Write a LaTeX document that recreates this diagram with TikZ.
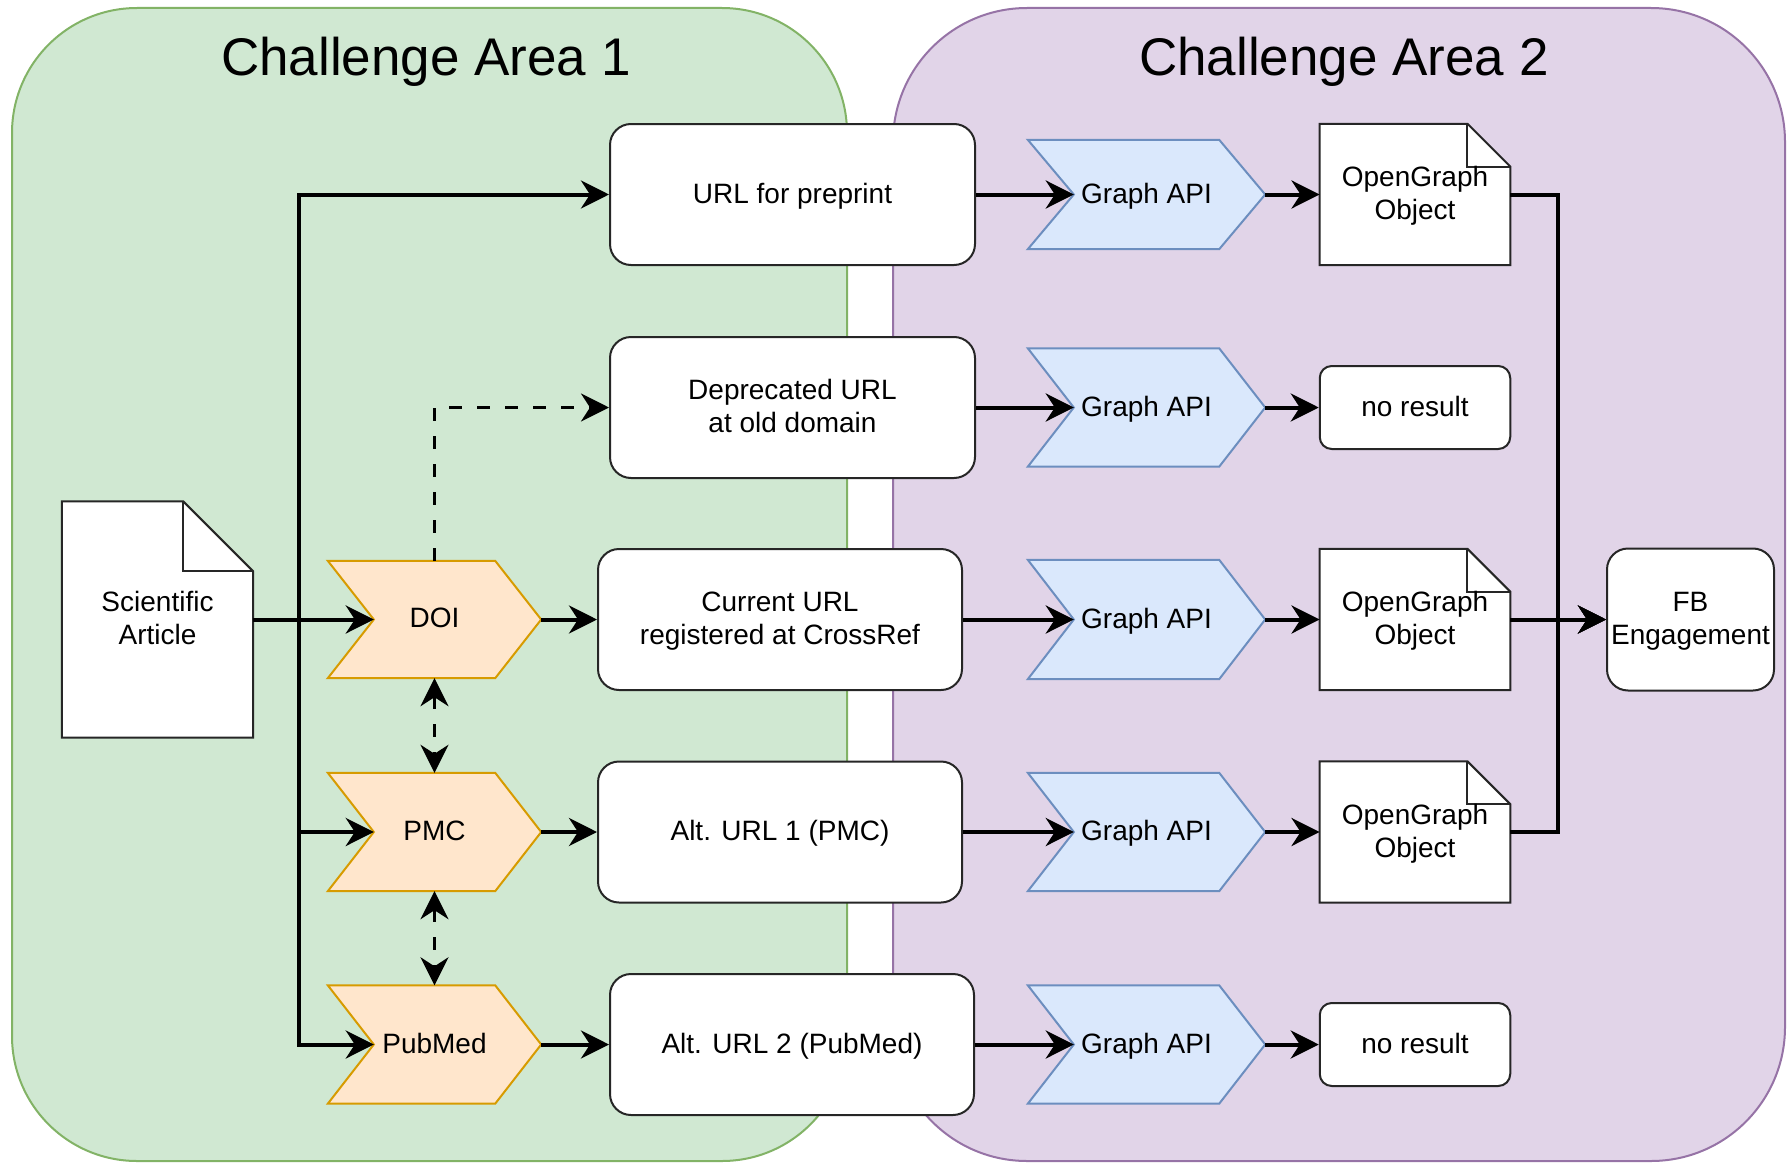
\documentclass[tikz,border=0pt]{standalone}
\usepackage{fontspec}
\setmainfont{Liberation Sans}
\usetikzlibrary{arrows.meta}
\pgfdeclarelayer{back}
\pgfdeclarelayer{mid}
\pgfsetlayers{back,mid,main}
\definecolor{gfill}{HTML}{D0E8D2}
\definecolor{gline}{HTML}{82B366}
\definecolor{pfill}{HTML}{E1D4E8}
\definecolor{pline}{HTML}{9673A6}
\definecolor{ofill}{HTML}{FFE6CC}
\definecolor{oline}{HTML}{D79B00}
\definecolor{bfill}{HTML}{DAE8FC}
\definecolor{bline}{HTML}{6C8EBF}
\newcommand{\fs}{\fontsize{28}{33}\selectfont}
\newcommand{\chevpath}[3]{%
  \path[#3] (#1.north west) -- ([xshift=-#2pt]#1.north east) -- (#1.east) -- ([xshift=-#2pt]#1.south east) -- (#1.south west) -- ([xshift=#2pt]#1.west) -- cycle;}
\newcommand{\docpath}[2]{%
  \path[docline] (#1.north west) -- ([xshift=-#2pt]#1.north east) -- ([yshift=-#2pt]#1.north east) -- (#1.south east) -- (#1.south west) -- cycle;
  \path[docline, fill=none] ([xshift=-#2pt]#1.north east) -- ([xshift=-#2pt,yshift=-#2pt]#1.north east) -- ([yshift=-#2pt]#1.north east);}
\begin{document}
\begin{tikzpicture}[x=1pt,y=-1pt,
  titletext/.style={font=\fontsize{53}{60}\selectfont, inner sep=0, anchor=base},
  box/.style={draw=black!85, line width=2pt, fill=white, rounded corners=21pt, minimum width=365pt, minimum height=141pt, inner sep=0, align=center, font=\fs, text depth=3pt},
  res/.style={box, rounded corners=12pt, minimum width=190.5pt, minimum height=83pt},
  doc/.style={draw=none, inner sep=0, align=center, font=\fs, minimum width=190.5pt, minimum height=141pt, text depth=3pt},
  chev/.style={draw=none, inner sep=0, align=center, font=\fs, minimum width=213pt, minimum height=118pt, text depth=3pt},
  bchev/.style={chev, minimum width=237pt},
  docline/.style={fill=white, draw=black!85, line width=2pt},
  ochev/.style={fill=ofill, draw=oline, line width=2pt},
  bchevs/.style={fill=bfill, draw=bline, line width=2pt},
  tip/.style={Stealth[length=28pt,width=28pt,inset=9pt]},
  arr/.style={line width=4pt, -{Stealth[length=28pt,width=28pt,inset=9pt]}},
  darr/.style={arr, line width=3.5pt, dash pattern=on 13pt off 15pt},
  ddarr/.style={darr, {Stealth[length=28pt,width=28pt,inset=9pt]}-{Stealth[length=28pt,width=28pt,inset=9pt]}}
]
\useasboundingbox (0,0) rectangle (1789,1164);
\begin{pgfonlayer}{back}
  \draw[fill=gfill, draw=gline, line width=2pt, rounded corners=125pt] (12,8) rectangle (847,1161);
  \draw[fill=pfill, draw=pline, line width=2pt, rounded corners=134pt] (893,8) rectangle (1785,1161);
\end{pgfonlayer}
\node[titletext] (t1) at (426,75) {Challenge Area 1};
\node[titletext] (t2) at (1344,75) {Challenge Area 2};

% left column
\node[doc, minimum width=191pt, minimum height=236pt] (art) at (157.5,619.5) {Scientific\\Article};
\node[chev, minimum height=117pt] (doi) at (434.5,619.5) {DOI};
\node[chev] (pmc) at (434.5,832) {PMC};
\node[chev] (pubmed) at (434.5,1044.5) {PubMed};

% URL boxes
\node[box] (url) at (792.5,194.5) {URL for preprint};
\node[box] (dep) at (792.5,407.5) {Deprecated URL\\at old domain};
\node[box, minimum width=364pt] (cur) at (780,619.5) {Current URL\\registered at CrossRef};
\node[box, minimum width=364pt] (alt1) at (780,832) {Alt. URL 1 (PMC)};
\node[box, minimum width=364pt] (alt2) at (792,1044.5) {Alt. URL 2 (PubMed)};

% Graph API
\node[bchev, minimum height=109pt] (g1) at (1146.5,194.5) {Graph API};
\node[bchev] (g2) at (1146.5,407.5) {Graph API};
\node[bchev, minimum height=119pt] (g3) at (1146.5,619.5) {Graph API};
\node[bchev] (g4) at (1146.5,832) {Graph API};
\node[bchev] (g5) at (1146.5,1044.5) {Graph API};

% results
\node[doc] (og1) at (1415,194.5) {OpenGraph\\Object};
\node[res] (nr2) at (1415,407.5) {no result};
\node[doc] (og3) at (1415,619.5) {OpenGraph\\Object};
\node[doc] (og4) at (1415,832) {OpenGraph\\Object};
\node[res] (nr5) at (1415,1044.5) {no result};
\node[box, minimum width=167pt, minimum height=142pt] (fb) at (1690.5,619.5) {FB\\Engagement};

\begin{pgfonlayer}{mid}
  \docpath{art}{70}
  \docpath{og1}{43}
  \docpath{og3}{43}
  \docpath{og4}{43}
  \chevpath{doi}{46}{ochev}
  \chevpath{pmc}{46}{ochev}
  \chevpath{pubmed}{46}{ochev}
  \chevpath{g1}{46}{bchevs}
  \chevpath{g2}{46}{bchevs}
  \chevpath{g3}{46}{bchevs}
  \chevpath{g4}{46}{bchevs}
  \chevpath{g5}{46}{bchevs}
\end{pgfonlayer}

% connectors
\draw[arr] (art.east) -- ++(45.5,0) |- (url.west);
\draw[arr] (art.east) -- ([xshift=46pt]doi.west);
\draw[arr] (art.east) -- ++(45.5,0) |- ([xshift=46pt]pmc.west);
\draw[arr] (art.east) -- ++(45.5,0) |- ([xshift=46pt]pubmed.west);
\draw[darr] (doi.north) |- (dep.west);
\draw[ddarr] (doi.south) -- (pmc.north);
\draw[ddarr] (pmc.south) -- (pubmed.north);
\draw[arr] (doi.east) -- (cur.west);
\draw[arr] (pmc.east) -- (alt1.west);
\draw[arr] (pubmed.east) -- (alt2.west);
\draw[arr] (url.east) -- ([xshift=46pt]g1.west);
\draw[arr] (dep.east) -- ([xshift=46pt]g2.west);
\draw[arr] (cur.east) -- ([xshift=46pt]g3.west);
\draw[arr] (alt1.east) -- ([xshift=46pt]g4.west);
\draw[arr] (alt2.east) -- ([xshift=46pt]g5.west);
\draw[arr] (g1.east) -- (og1.west);
\draw[arr] (g2.east) -- (nr2.west);
\draw[arr] (g3.east) -- (og3.west);
\draw[arr] (g4.east) -- (og4.west);
\draw[arr] (g5.east) -- (nr5.west);
\draw[arr] (og1.east) -- ++(48,0) |- (fb.west);
\draw[arr] (og3.east) -- (fb.west);
\draw[arr] (og4.east) -- ++(48,0) |- (fb.west);
\end{tikzpicture}
\end{document}
